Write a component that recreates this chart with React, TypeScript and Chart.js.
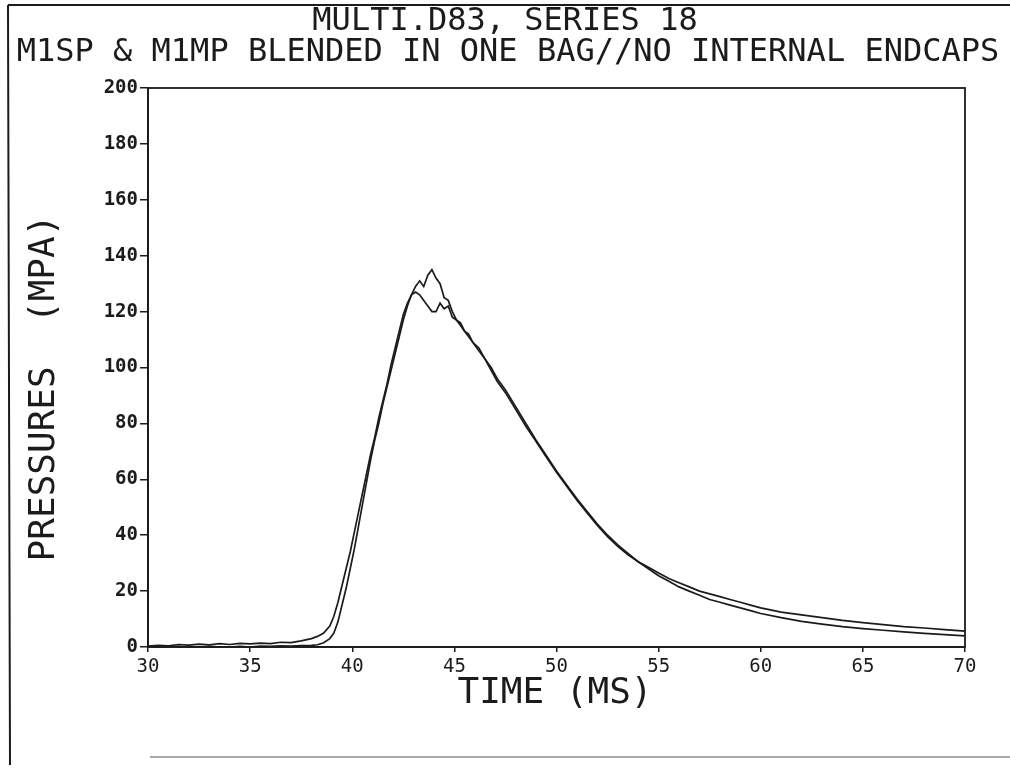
import React, { useEffect, useRef } from "react";
import { Chart, registerables } from "chart.js";

Chart.register(...registerables);

const titleLines = ["MULTI.D83, SERIES 18", "M1SP & M1MP BLENDED IN ONE BAG//NO INTERNAL ENDCAPS"];
const xAxisTitle = "TIME (MS)";
const yAxisTitle = "PRESSURES  (MPA)";

const timeMs = [
  30, 30.5, 31, 31.5, 32, 32.5, 33, 33.5, 34, 34.5,
  35, 35.5, 36, 36.5, 37, 37.5, 38, 38.3, 38.6, 38.9,
  39.1, 39.3, 39.5, 39.7, 39.9, 40.1, 40.3, 40.5, 40.7, 40.9,
  41.1, 41.3, 41.5, 41.7, 41.9, 42.1, 42.3, 42.5, 42.7, 42.9,
  43.1, 43.3, 43.5, 43.7, 43.9, 44.1, 44.3, 44.5, 44.7, 44.9,
  45.1, 45.3, 45.5, 45.7, 45.9, 46.2, 46.5, 46.8, 47.1, 47.5,
  48, 48.5, 49, 49.5, 50, 50.5, 51, 51.5, 52, 52.5,
  53, 53.5, 54, 54.5, 55, 55.5, 56, 56.5, 57, 57.5,
  58, 58.5, 59, 59.5, 60, 61, 62, 63, 64, 65,
  66, 67, 68, 69, 70,
];

// Gauge with the higher peak (~135 MPa)
const pressureM1SP = [
  0, 0, 0, 0.2, 0, 0, 0.3, 0, 0, 0.2,
  0, 0.3, 0.2, 0.4, 0.3, 0.5, 0.6, 0.8, 1.5, 3,
  5, 9, 15, 21, 28, 35, 43, 51, 59, 67,
  74, 80, 87, 93, 99, 105, 111, 117, 122, 126,
  129, 131, 129, 133, 135, 132, 130, 125, 124, 120,
  117, 116, 113, 112, 109, 107, 103, 99, 95, 91,
  85, 79, 73.5, 68, 62.5, 57.5, 52.5, 48, 43.5, 39.5,
  36, 33, 30.5, 28.5, 26.5, 24.5, 23, 21.5, 20, 19,
  18, 17, 16, 15, 14, 12.5, 11.5, 10.5, 9.5, 8.7,
  8, 7.3, 6.8, 6.2, 5.7,
];

// Gauge with the earlier rise and flatter peak (~127 MPa)
const pressureM1MP = [
  0.3, 0.6, 0.4, 0.9, 0.7, 1.0, 0.8, 1.2, 0.9, 1.3,
  1.1, 1.4, 1.2, 1.7, 1.6, 2.2, 3.0, 3.8, 5.0, 7.5,
  11, 16, 22, 28, 34, 41, 48, 55, 62, 69,
  75, 82, 88, 94, 101, 107, 113, 119, 123, 126,
  127, 126, 124, 122, 120, 120, 123, 121, 122, 118,
  117, 115, 113, 111, 109, 106, 103, 100, 96, 92,
  86, 80, 74, 68.5, 63, 58, 53, 48.5, 44, 40,
  36.5, 33.5, 30.5, 28, 25.5, 23.5, 21.5, 20, 18.5, 17,
  16, 15, 14, 13, 12, 10.5, 9.2, 8.2, 7.3, 6.6,
  6, 5.4, 4.9, 4.4, 4,
];

const xMin = 30;
const xMax = 70;
const xStep = 5;
const yMin = 0;
const yMax = 200;
const yStep = 20;

const INK = "#1b1b1b";
const FONT = "'DejaVu Sans Mono', monospace";

const decorPlugin = {
  id: "decor",
  beforeDraw(chart: any) {
    const ctx = chart.ctx;
    ctx.save();
    ctx.fillStyle = "#ffffff";
    ctx.fillRect(0, 0, chart.width, chart.height);
    ctx.restore();
  },
  afterDraw(chart: any) {
    const ctx = chart.ctx;
    const a = chart.chartArea;
    ctx.save();
    // plot box
    ctx.strokeStyle = INK;
    ctx.lineWidth = 1.8;
    ctx.strokeRect(a.left, a.top, a.right - a.left, a.bottom - a.top);
    // outer page frame
    ctx.lineWidth = 2;
    ctx.beginPath();
    ctx.moveTo(8, 5);
    ctx.lineTo(1010, 5);
    ctx.moveTo(8, 5);
    ctx.lineTo(10, 765);
    ctx.stroke();
    ctx.strokeStyle = "#555";
    ctx.lineWidth = 1.2;
    ctx.beginPath();
    ctx.moveTo(150, 757);
    ctx.lineTo(1010, 757);
    ctx.stroke();
    // titles
    ctx.fillStyle = INK;
    ctx.textAlign = "center";
    ctx.textBaseline = "middle";
    ctx.font = `32px ${FONT}`;
    ctx.fillText(titleLines[0], 505, 22);
    ctx.fillText(titleLines[1], 508, 53);
    ctx.font = `36px ${FONT}`;
    ctx.fillText(xAxisTitle, 555, 694);
    ctx.translate(45, 388);
    ctx.rotate(-Math.PI / 2);
    ctx.fillText(yAxisTitle, 0, 0);
    ctx.restore();
  },
};

export default function App() {
  const canvasRef = useRef<HTMLCanvasElement | null>(null);

  useEffect(() => {
    const canvas = canvasRef.current;
    if (!canvas) return;
    const toPoints = (vals: number[]) => timeMs.map((t, i) => ({ x: t, y: vals[i] }));
    const chart = new Chart(canvas, {
      type: "line",
      data: {
        datasets: [
          {
            label: "M1SP",
            data: toPoints(pressureM1SP),
            borderColor: INK,
            borderWidth: 1.7,
            pointRadius: 0,
            tension: 0,
            fill: false,
          },
          {
            label: "M1MP",
            data: toPoints(pressureM1MP),
            borderColor: INK,
            borderWidth: 1.7,
            pointRadius: 0,
            tension: 0,
            fill: false,
          },
        ],
      },
      options: {
        animation: false,
        responsive: false,
        layout: { padding: { left: 0, top: 88, right: 45, bottom: 0 } },
        plugins: {
          legend: { display: false },
          title: { display: false },
          tooltip: { enabled: false },
        },
        scales: {
          x: {
            type: "linear",
            min: xMin,
            max: xMax,
            afterFit: (s: any) => {
              s.height = 123;
            },
            ticks: {
              stepSize: xStep,
              color: INK,
              padding: 4,
              maxRotation: 0,
              font: { family: FONT, size: 19 },
            },
            grid: {
              drawOnChartArea: false,
              drawTicks: true,
              tickLength: 5,
              color: INK,
              lineWidth: 1.5,
            },
            border: { display: true, color: INK, width: 1.8 },
          },
          y: {
            type: "linear",
            min: yMin,
            max: yMax,
            afterFit: (s: any) => {
              s.width = 148;
            },
            ticks: {
              stepSize: yStep,
              color: INK,
              padding: 2,
              font: { family: FONT, size: 19, weight: "bold" },
            },
            grid: {
              drawOnChartArea: false,
              drawTicks: true,
              tickLength: 8,
              color: INK,
              lineWidth: 1.5,
            },
            border: { display: true, color: INK, width: 1.8 },
          },
        },
      },
      plugins: [decorPlugin],
    });
    return () => chart.destroy();
  }, []);

  return (
    <div style={{ position: "fixed", left: 0, top: 0, width: 1010, height: 770, background: "#fff" }}>
      <canvas ref={canvasRef} width={1010} height={770} style={{ display: "block" }} />
    </div>
  );
}
